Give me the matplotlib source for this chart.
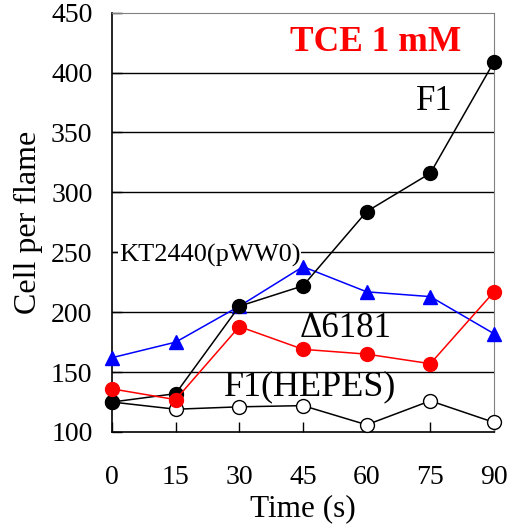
import matplotlib
matplotlib.use("Agg")
import matplotlib.pyplot as plt

time_s = [0, 15, 30, 45, 60, 75, 90]
f1 = [125, 132, 205, 222, 284, 316, 409]
kt2440 = [162, 175, 205, 238, 217, 213, 182]
d6181 = [136, 127, 188, 169, 165, 157, 217]
f1_hepes = [125, 119, 121, 122, 106, 126, 108]
yticks = [100, 150, 200, 250, 300, 350, 400, 450]

plt.rcParams['font.family'] = ['Liberation Serif', 'DejaVu Serif']

fig = plt.figure(figsize=(5.13, 5.24), dpi=100)
ax = fig.add_axes([0.2183, 0.1756, 0.963 - 0.2183, 0.9758 - 0.1756])

for y in yticks[1:-1]:
    ax.axhline(y, color='black', lw=1.0, zorder=1)

ax.plot(time_s, f1_hepes, '-o', color='black', mfc='white', mec='black', ms=10, lw=1.1, mew=1.0, zorder=3, clip_on=False)
ax.plot(time_s, kt2440, '-^', color='#0000ff', ms=10, lw=1.1, zorder=4, clip_on=False)
ax.plot(time_s, f1, '-o', color='black', ms=10, lw=1.1, zorder=5, clip_on=False)
ax.plot(time_s, d6181, '-o', color='#ff0000', ms=10, lw=1.1, zorder=6, clip_on=False)

ax.set_xlim(0, 90)
ax.set_ylim(100, 450)
ax.set_xticks(time_s)
ax.set_yticks(yticks)
ax.tick_params(axis='both', direction='in', length=7, width=1, labelsize=20, colors='black')
ax.tick_params(axis='y', pad=14)
ax.tick_params(axis='x', pad=24)
for lbl in ax.get_yticklabels():
    lbl.set_va('center_baseline')
ax.spines['top'].set_color('#808080')
ax.spines['right'].set_color('#808080')
for s in ['left', 'bottom']:
    ax.spines[s].set_color('black')
    ax.spines[s].set_linewidth(1.2)

ax.set_xlabel('Time (s)', fontsize=22.5, labelpad=3)
ax.set_ylabel('Cell per flame', fontsize=23, labelpad=6)

ax.text(62, 425.5, 'TCE 1 mM', color='#ff0000', fontsize=25.5, fontweight='bold', ha='center', va='center')
ax.text(76, 375.5, 'F1', fontsize=25, ha='center', va='center')
ax.text(1.6, 247.7, 'KT2440(pWW0)', fontsize=19, ha='left', va='center', zorder=2,
        bbox=dict(facecolor='white', edgecolor='none', pad=0.5))
ax.text(55, 186.5, 'Δ6181', fontsize=25, ha='center', va='center')
ax.text(46.6, 137.5, 'F1(HEPES)', fontsize=26, ha='center', va='center')

fig.savefig('out.png', dpi=100)
